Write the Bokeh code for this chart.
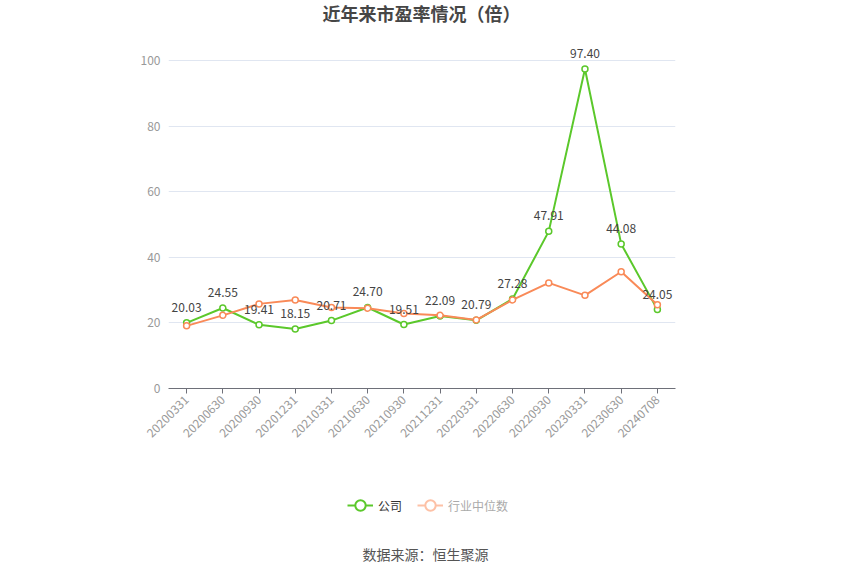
import math
from bokeh.plotting import figure
from bokeh.layouts import column
from bokeh.models import ColumnDataSource, FactorRange, Range1d, Legend, LegendItem, FixedTicker, Label
from bokeh.core.properties import value
from bokeh.embed import file_html
from bokeh.resources import INLINE

dates = ["20200331", "20200630", "20200930", "20201231", "20210331", "20210630", "20210930",
         "20211231", "20220331", "20220630", "20220930", "20230331", "20230630", "20240708"]
company_pe = [20.03, 24.55, 19.41, 18.15, 20.71, 24.70, 19.51, 22.09, 20.79, 27.28, 47.91, 97.40, 44.08, 24.05]
industry_pe = [19.1, 22.3, 25.8, 27.0, 24.7, 24.5, 22.9, 22.3, 20.9, 27.0, 32.2, 28.4, 35.6, 25.5]
y_ticks = [0, 20, 40, 60, 80, 100]

FONT = "Noto Sans CJK SC"
GREEN = "#5BC82B"
ORANGE = "#F98A58"


def strip(h):
    # plain figure used for texts outside the chart area
    f = figure(width=850, height=h, output_backend="svg", toolbar_location=None,
               x_axis_type=None, y_axis_type=None, x_range=Range1d(0, 1), y_range=Range1d(0, 1),
               min_border=0)
    f.outline_line_color = None
    f.grid.grid_line_color = None
    return f


# title strip (frames are aligned with the main plot: x measured from its left edge)
top = strip(30)
top.add_layout(Label(x=253, y=18, x_units="screen", y_units="screen", text="近年来市盈率情况（倍）",
                     text_align="center", text_baseline="middle", text_font=FONT,
                     text_font_size="18px", text_font_style="bold", text_color="#464646"))

src = ColumnDataSource(data=dict(
    d=dates, c=company_pe, i=industry_pe,
    lbl=["%.2f" % v for v in company_pe],
))

# extra headroom above 100 so that the top value label is not clipped
p = figure(x_range=FactorRange(*dates), y_range=Range1d(0, 106.1),
           width=850, height=440, output_backend="svg", toolbar_location=None,
           min_border_left=168, min_border_right=175, min_border_top=10, min_border_bottom=82)
p.outline_line_color = None
p.background_fill_color = "white"
p.border_fill_color = "white"
p.x_range.range_padding = 0

p.line("d", "c", source=src, line_color=GREEN, line_width=2)
p.scatter("d", "c", source=src, size=6, fill_color="white", line_color=GREEN, line_width=1.5)
p.line("d", "i", source=src, line_color=ORANGE, line_width=2)
p.scatter("d", "i", source=src, size=6, fill_color="white", line_color=ORANGE, line_width=1.5)

p.text("d", "c", text="lbl", source=src, text_align="center", text_baseline="bottom",
       y_offset=-11, text_font=value(FONT), text_font_size="12px", text_color="#444444")

p.xgrid.grid_line_color = None
p.ygrid.grid_line_color = "#E0E6F1"
p.yaxis.ticker = FixedTicker(ticks=y_ticks)
p.yaxis.axis_line_color = None
p.yaxis.major_tick_line_color = None
p.yaxis.minor_tick_line_color = None
p.yaxis.major_tick_out = 0
p.yaxis.major_label_text_color = "#999999"
p.yaxis.major_label_text_font = FONT
p.yaxis.major_label_text_font_size = "12px"
p.yaxis.major_label_standoff = 8

p.xaxis.axis_line_color = "#6E7079"
p.xaxis.major_tick_line_color = "#6E7079"
p.xaxis.major_tick_out = 5
p.xaxis.major_tick_in = 0
p.xaxis.major_label_orientation = math.pi / 4
p.xaxis.major_label_text_color = "#999999"
p.xaxis.major_label_text_font = FONT
p.xaxis.major_label_text_font_size = "12px"
p.xaxis.major_label_standoff = 4

# bottom strip: legend and source note
bot = strip(105)
lg1 = bot.line([-5, -4], [-5, -4], line_color=GREEN, line_width=2)
lg1c = bot.scatter([-5], [-5], size=10, fill_color="white", line_color=GREEN, line_width=2)
lg2 = bot.line([-5, -4], [-5, -4], line_color="#FDC1A6", line_width=2)
lg2c = bot.scatter([-5], [-5], size=10, fill_color="white", line_color="#FDC1A6", line_width=2)

common = dict(orientation="horizontal", padding=0, margin=0, glyph_width=26, glyph_height=26,
              label_height=14, label_standoff=5, label_text_font=FONT, label_text_font_size="12px",
              background_fill_alpha=0, border_line_color=None)
bot.add_layout(Legend(items=[LegendItem(label="公司", renderers=[lg1, lg1c])],
                      location=(179, 57), label_text_color="#333333", **common))
bot.add_layout(Legend(items=[LegendItem(label="行业中位数", renderers=[lg2, lg2c])],
                      location=(249, 57), label_text_color="#AAAAAA", **common))

bot.add_layout(Label(x=257, y=22, x_units="screen", y_units="screen", text="数据来源：恒生聚源",
                     text_align="center", text_baseline="middle", text_font=FONT,
                     text_font_size="14px", text_color="#555555"))

open("out.html", "w").write(file_html(column(top, p, bot, spacing=0), INLINE))
